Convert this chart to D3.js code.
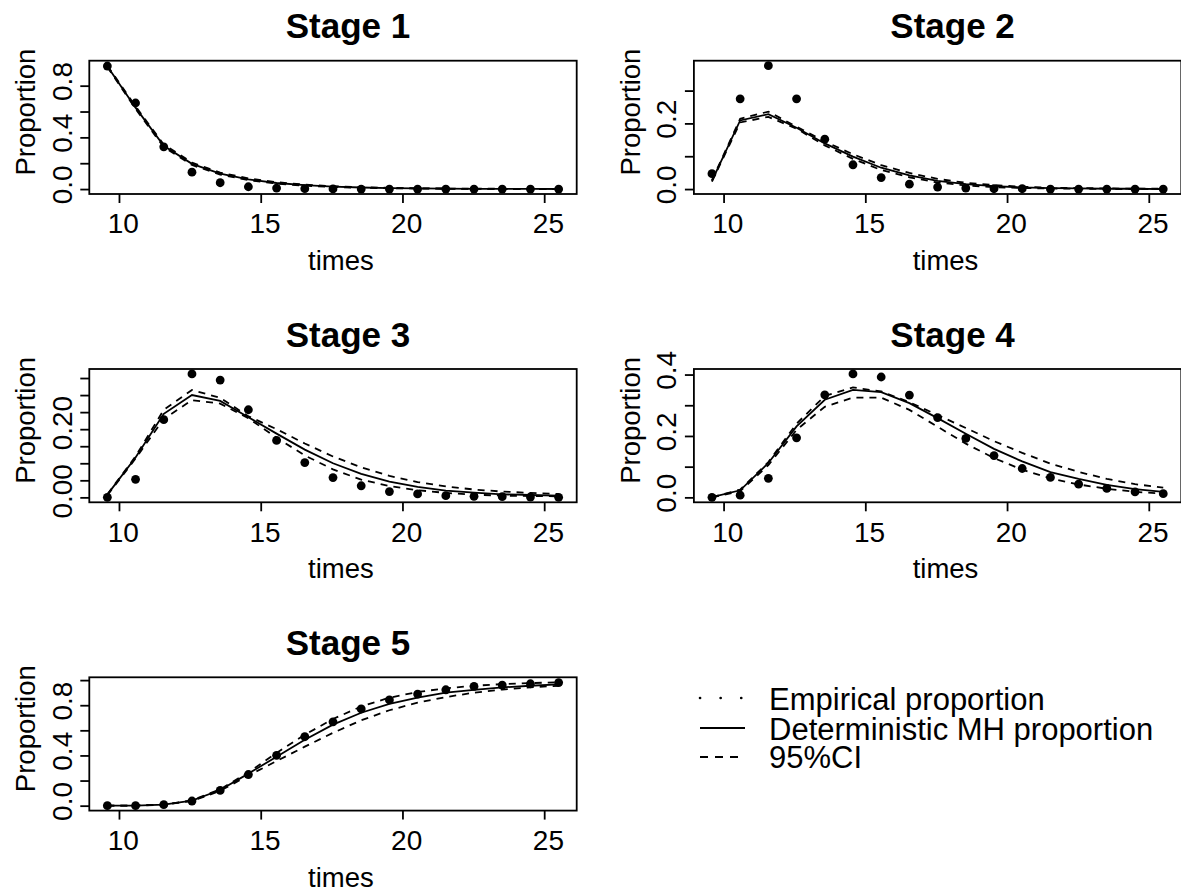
<!DOCTYPE html>
<html><head><meta charset="utf-8">
<script src="https://cdn.jsdelivr.net/npm/d3@7"></script>
<style>
body{margin:0;background:#fff}
svg{display:block}
text{font-family:"Liberation Sans",Arial,Helvetica,sans-serif;fill:#000}
</style>
</head><body>
<svg id="c" width="1181" height="894"></svg>
<script>
// ---------- data ----------
const times = [9.59, 10.585, 11.58, 12.575, 13.57, 14.565, 15.56, 16.555, 17.55, 18.545, 19.54, 20.535, 21.53, 22.525, 23.52, 24.515, 25.51];
const stageTitles = ["Stage 1", "Stage 2", "Stage 3", "Stage 4", "Stage 5"];

const empirical1 = [0.952, 0.666, 0.327, 0.131, 0.049, 0.018, 0.008, 0.003, 0.001, 0, 0, 0, 0, 0, 0, 0, 0];
const mh1        = [0.95, 0.63, 0.335, 0.195, 0.12, 0.075, 0.047, 0.03, 0.019, 0.012, 0.008, 0.005, 0.003, 0.002, 0.001, 0.001, 0.0005];
const upper1     = [0.955, 0.64, 0.345, 0.205, 0.128, 0.082, 0.053, 0.034, 0.022, 0.014, 0.009, 0.006, 0.004, 0.003, 0.002, 0.001, 0.001];
const lower1     = [0.945, 0.62, 0.325, 0.186, 0.112, 0.069, 0.042, 0.026, 0.016, 0.01, 0.006, 0.004, 0.002, 0.001, 0.001, 0, 0];

const empirical2 = [0.047, 0.275, 0.376, 0.275, 0.152, 0.074, 0.035, 0.015, 0.006, 0.003, 0.001, 0.001, 0, 0, 0, 0, 0];
const mh2        = [0.025, 0.209, 0.228, 0.187, 0.139, 0.099, 0.065, 0.042, 0.025, 0.015, 0.009, 0.005, 0.003, 0.002, 0.001, 0.001, 0];
const upper2     = [0.027, 0.214, 0.236, 0.19, 0.145, 0.106, 0.073, 0.049, 0.031, 0.019, 0.012, 0.007, 0.004, 0.003, 0.002, 0.001, 0.001];
const lower2     = [0.023, 0.203, 0.22, 0.184, 0.133, 0.092, 0.058, 0.036, 0.02, 0.011, 0.006, 0.003, 0.002, 0.001, 0, 0, 0];

const empirical3 = [0.0, 0.053, 0.228, 0.362, 0.344, 0.257, 0.167, 0.102, 0.058, 0.034, 0.017, 0.010, 0.005, 0.003, 0.002, 0.001, 0.0];
const mh3        = [0.008, 0.117, 0.245, 0.30, 0.283, 0.235, 0.187, 0.14, 0.10, 0.069, 0.046, 0.031, 0.02, 0.014, 0.009, 0.007, 0.005];
const upper3     = [0.009, 0.12, 0.257, 0.315, 0.292, 0.238, 0.2, 0.158, 0.12, 0.088, 0.063, 0.045, 0.032, 0.023, 0.017, 0.013, 0.01];
const lower3     = [0.006, 0.114, 0.23, 0.285, 0.275, 0.232, 0.175, 0.123, 0.082, 0.052, 0.033, 0.021, 0.013, 0.008, 0.005, 0.004, 0.003];

const empirical4 = [0.0, 0.007, 0.062, 0.194, 0.334, 0.402, 0.392, 0.333, 0.26, 0.192, 0.136, 0.094, 0.065, 0.043, 0.029, 0.018, 0.012];
const mh4        = [0.001, 0.023, 0.112, 0.231, 0.318, 0.35, 0.343, 0.307, 0.258, 0.207, 0.158, 0.117, 0.082, 0.06, 0.041, 0.027, 0.018];
const upper4     = [0.001, 0.025, 0.115, 0.24, 0.33, 0.358, 0.345, 0.31, 0.268, 0.226, 0.183, 0.145, 0.11, 0.083, 0.06, 0.043, 0.032];
const lower4     = [0.0, 0.02, 0.105, 0.22, 0.295, 0.325, 0.325, 0.285, 0.23, 0.175, 0.128, 0.09, 0.062, 0.042, 0.028, 0.018, 0.012];

const empirical5 = [0.0, 0.0, 0.008, 0.037, 0.121, 0.248, 0.401, 0.549, 0.668, 0.77, 0.842, 0.889, 0.923, 0.95, 0.96, 0.971, 0.98];
const mh5        = [0.0, 0.001, 0.008, 0.04, 0.125, 0.255, 0.39, 0.525, 0.645, 0.74, 0.81, 0.86, 0.9, 0.923, 0.942, 0.955, 0.966];
const upper5     = [0.0, 0.001, 0.009, 0.042, 0.13, 0.265, 0.42, 0.565, 0.69, 0.79, 0.86, 0.905, 0.935, 0.955, 0.968, 0.976, 0.983];
const lower5     = [0.0, 0.001, 0.007, 0.037, 0.118, 0.24, 0.355, 0.47, 0.58, 0.68, 0.76, 0.82, 0.865, 0.9, 0.925, 0.943, 0.955];

const xTicks = [10, 15, 20, 25];
const yTicks1 = [0, 0.2, 0.4, 0.6, 0.8];        const yTickLabels1 = ["0.0", "", "0.4", "", "0.8"];
const yTicks2 = [0, 0.1, 0.2, 0.3];             const yTickLabels2 = ["0.0", "", "0.2", ""];
const yTicks3 = [0, 0.05, 0.1, 0.15, 0.2, 0.25, 0.3, 0.35]; const yTickLabels3 = ["0.00", "", "", "", "0.20", "", "", ""];
const yTicks4 = [0, 0.1, 0.2, 0.3, 0.4];        const yTickLabels4 = ["0.0", "", "0.2", "", "0.4"];
const yTicks5 = [0, 0.2, 0.4, 0.6, 0.8, 1.0];   const yTickLabels5 = ["0.0", "", "0.4", "", "0.8", ""];

const xLabel = "times", yLabel = "Proportion";
const legendLabels = ["Empirical proportion", "Deterministic MH proportion", "95%CI"];

// ---------- layout ----------
const stages = [
  {title: stageTitles[0], emp: empirical1, mh: mh1, hi: upper1, lo: lower1, ticks: yTicks1, labels: yTickLabels1},
  {title: stageTitles[1], emp: empirical2, mh: mh2, hi: upper2, lo: lower2, ticks: yTicks2, labels: yTickLabels2},
  {title: stageTitles[2], emp: empirical3, mh: mh3, hi: upper3, lo: lower3, ticks: yTicks3, labels: yTickLabels3},
  {title: stageTitles[3], emp: empirical4, mh: mh4, hi: upper4, lo: lower4, ticks: yTicks4, labels: yTickLabels4},
  {title: stageTitles[4], emp: empirical5, mh: mh5, hi: upper5, lo: lower5, ticks: yTicks5, labels: yTickLabels5}
];

const svg = d3.select("#c");
const colOff = [0, 604.6], rowOff = [0, 308.3, 616.6];
const box = {l: 89.3, r: 576.7, t: 60.7, b: 194};
const K = 0.38;           // text start offset fraction (reference text runs past its centre)
const TICK_FS = 28, LAB_FS = 27.5, TITLE_FS = 35, LEG_FS = 31;
const LW = 1.8;

function placeText(g, x, y, str, size, weight, rotate) {
  const t = g.append("g").attr("transform", `translate(${x},${y})${rotate ? " rotate(-90)" : ""}`)
    .append("text").attr("font-size", size).attr("font-weight", weight || "normal")
    .attr("text-anchor", "start").text(str);
  const w = t.node().getComputedTextLength();
  t.attr("x", -K * w);
  return t;
}

stages.forEach((s, i) => {
  const ox = colOff[i % 2], oy = rowOff[Math.floor(i / 2)];
  const g = svg.append("g").attr("transform", `translate(${ox},${oy})`);

  const xe = d3.extent(times), xr = xe[1] - xe[0];
  const x = d3.scaleLinear().domain([xe[0] - 0.04 * xr, xe[1] + 0.04 * xr]).range([box.l, box.r]);
  const ye = d3.extent(s.emp.concat(s.mh, s.hi, s.lo)), yr = ye[1] - ye[0];
  const y = d3.scaleLinear().domain([ye[0] - 0.04 * yr, ye[1] + 0.04 * yr]).range([box.b, box.t]);

  // x axis
  const xa = g.append("g").attr("transform", `translate(0,${box.b})`)
    .call(d3.axisBottom(x).tickValues(xTicks).tickSize(9).tickFormat(d3.format("d")));
  xa.select(".domain").remove();
  xa.selectAll("line").attr("stroke", "#000").attr("stroke-width", LW);
  xa.selectAll("text").attr("font-size", TICK_FS).attr("font-family", null).attr("fill", "#000")
    .attr("dy", 0).attr("y", 39.3).attr("text-anchor", "start")
    .each(function () { const w = this.getComputedTextLength(); d3.select(this).attr("x", -K * w); });

  // y axis
  const ya = g.append("g").attr("transform", `translate(${box.l},0)`)
    .call(d3.axisLeft(y).tickValues(s.ticks).tickSize(9).tickFormat((d, j) => s.labels[j]));
  ya.select(".domain").remove();
  ya.selectAll("line").attr("stroke", "#000").attr("stroke-width", LW);
  ya.selectAll("text").attr("font-size", TICK_FS).attr("font-family", null).attr("fill", "#000")
    .attr("transform", "rotate(-90)").attr("dy", 0).attr("y", -17.6).attr("text-anchor", "start")
    .each(function () { const w = this.getComputedTextLength(); d3.select(this).attr("x", -K * w); });

  // box
  g.append("rect").attr("x", box.l).attr("y", box.t).attr("width", box.r - box.l).attr("height", box.b - box.t)
    .attr("fill", "none").attr("stroke", "#000").attr("stroke-width", LW);

  // points
  g.append("g").selectAll("circle").data(times).join("circle")
    .attr("cx", d => x(d)).attr("cy", (d, j) => y(s.emp[j])).attr("r", 4.4).attr("fill", "#000");

  const line = arr => d3.line().x(d => x(d)).y((d, j) => y(arr[j]))(times);
  g.append("path").attr("d", line(s.mh)).attr("fill", "none").attr("stroke", "#000").attr("stroke-width", LW);
  [s.hi, s.lo].forEach(arr => {
    g.append("path").attr("d", line(arr)).attr("fill", "none").attr("stroke", "#000")
      .attr("stroke-width", LW).attr("stroke-dasharray", "7,6");
  });

  // titles
  placeText(g, (box.l + box.r) / 2, 38.3, s.title, TITLE_FS, "bold", false);
  placeText(g, (box.l + box.r) / 2, box.b + 76, xLabel, LAB_FS, "normal", false);
  placeText(g, box.l - 54, (box.t + box.b) / 2, yLabel, LAB_FS, "normal", true);
});

// ---------- legend ----------
const lg = svg.append("g");
const legY = [698, 728, 757];
const legTextY = [710, 739.5, 768];
const legDash = ["0.1,20.5", null, "8,7"];
legendLabels.forEach((lab, i) => {
  const p = lg.append("line").attr("x1", 700).attr("x2", 745).attr("y1", legY[i]).attr("y2", legY[i])
    .attr("stroke", "#000").attr("stroke-width", i === 0 ? 2.6 : LW);
  if (i === 0) p.attr("stroke-linecap", "round");
  if (legDash[i]) p.attr("stroke-dasharray", legDash[i]);
  lg.append("text").attr("x", 769).attr("y", legTextY[i]).attr("font-size", LEG_FS).text(lab);
});
</script>
</body></html>
